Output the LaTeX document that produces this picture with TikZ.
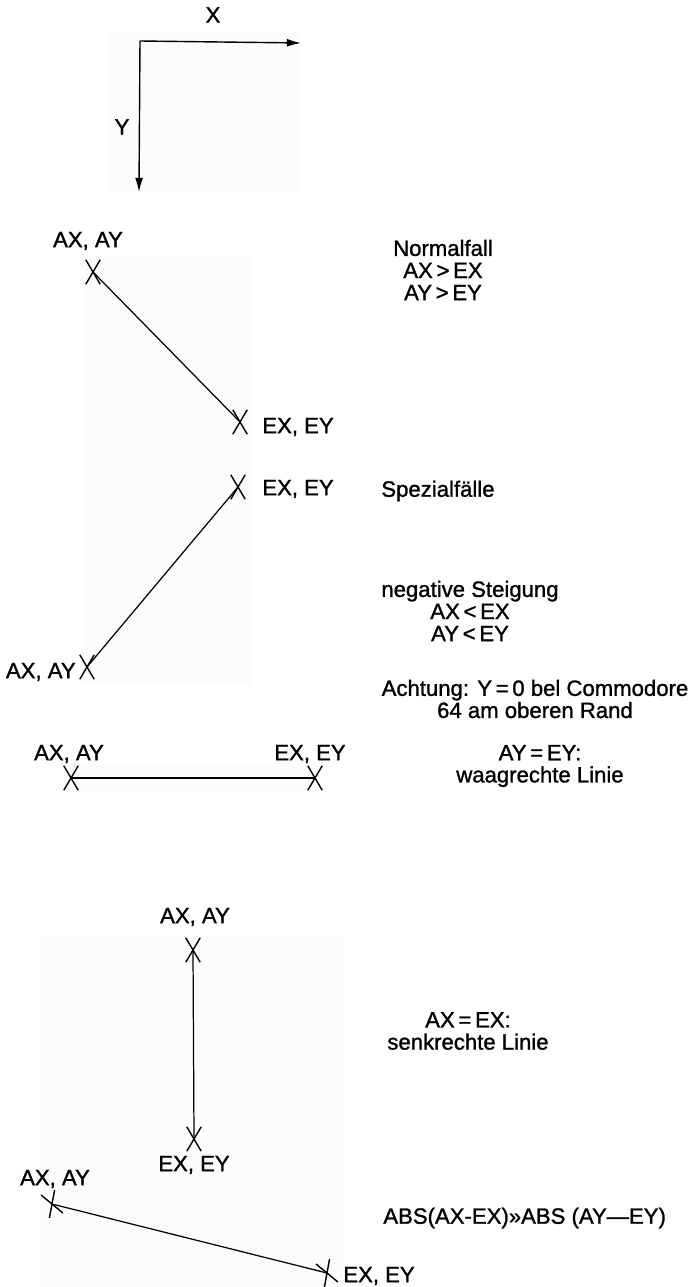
\documentclass[tikz,border=0pt]{standalone}
\usepackage{fontspec}
\setmainfont{Liberation Sans}[FakeBold=1.2]
\usetikzlibrary{arrows.meta, shapes.misc}

\begin{document}
\begin{tikzpicture}[
    x=0.02cm, y=-0.02cm,
    papier/.style={fill=black!1.2, draw=none},
    achse/.style={line width=0.8pt, -{Latex[length=8pt, width=4.5pt]}},
    linie/.style={line width=0.7pt},
    kreuz/.style={cross out, draw, line width=0.8pt, inner sep=0pt,
                  minimum width=0.26cm, minimum height=0.46cm},
    lbl/.style={inner sep=0pt, font=\fontsize{12.6}{12.6}\selectfont},
    txt/.style={lbl, align=center}
  ]
  \useasboundingbox (0,0) rectangle (694,1287);

  % faint paper patches
  \fill[papier] (110,33) rectangle (302,192);
  \fill[papier] (82,257) rectangle (252,685);
  \fill[papier] (67,763) rectangle (320,792);
  \fill[papier] (40,936) rectangle (343,1287);

  % Axes
  \coordinate (o) at (140,41);
  \coordinate (xend) at (301,43);
  \coordinate (yend) at (139,192);
  \draw[achse] (o) -- (xend);
  \draw[achse] (o) -- (yend);
  \node[lbl] (xlbl) at (213,15) {X};
  \node[lbl] (ylbl) at (122,127) {Y};

  % Normalfall
  \node[kreuz] (a1) at (93,272) {};
  \node[kreuz] (e1) at (240,422) {};
  \draw[linie] (a1.center) -- (e1.center);
  \node[lbl] (a1lbl) at (88,241) {AX, AY};
  \node[lbl, anchor=west] (e1lbl) at (262,427) {EX, EY};
  \node[txt] (normal) at (443,270) {Normalfall\\AX\,>\,EX\\AY\,>\,EY};

  % negative Steigung
  \node[kreuz] (e2) at (238,487) {};
  \node[kreuz] (a2) at (87,667) {};
  \draw[linie] (a2.center) -- (e2.center);
  \node[lbl, anchor=west] (e2lbl) at (262,489) {EX, EY};
  \node[lbl, anchor=east] (a2lbl) at (76,672) {AX, AY};
  \node[lbl, anchor=west] (spezial) at (381,491) {Spezialfälle};
  \node[txt] (negativ) at (470,611) {negative Steigung\\AX\,<\,EX\\AY\,<\,EY};
  \node[txt] (achtung) at (535,699) {Achtung: Y\,=\,0 bel Commodore\\64 am oberen Rand};

  % waagrechte Linie
  \node[kreuz] (a3) at (71,778) {};
  \node[kreuz] (e3) at (315,778) {};
  \draw[linie] (a3.center) -- (e3.center);
  \node[lbl] (a3lbl) at (69,754) {AX, AY};
  \node[lbl] (e3lbl) at (310,754) {EX, EY};
  \node[txt] (waag) at (540,766) {AY\,=\,EY:\\waagrechte Linie};

  % senkrechte Linie
  \node[kreuz] (a4) at (193,950) {};
  \node[kreuz] (e4) at (194,1139) {};
  \draw[linie] (a4.center) -- (e4.center);
  \node[lbl] (a4lbl) at (195,917) {AX, AY};
  \node[lbl] (e4lbl) at (194,1165) {EX, EY};
  \node[txt] (senk) at (468,1031) {AX\,=\,EX:\\senkrechte Linie};

  % flache Linie
  \node[kreuz, rotate=20] (a5) at (52,1204) {};
  \node[kreuz, rotate=20] (e5) at (327,1273) {};
  \draw[linie] (a5.center) -- (e5.center);
  \node[lbl] (a5lbl) at (55,1179) {AX, AY};
  \node[lbl, anchor=west] (e5lbl) at (343,1276) {EX, EY};
  \node[lbl, anchor=west] (abs) at (383,1218) {ABS(AX-EX)»ABS (AY—EY)};
\end{tikzpicture}
\end{document}
